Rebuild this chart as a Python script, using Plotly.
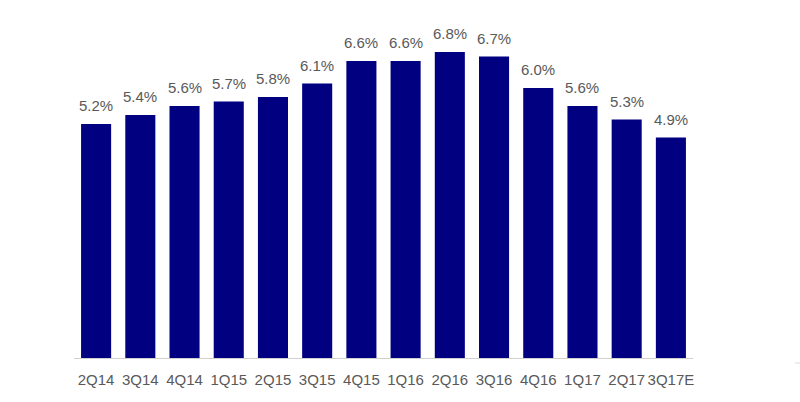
import plotly.graph_objects as go

quarters = ["2Q14", "3Q14", "4Q14", "1Q15", "2Q15", "3Q15", "4Q15", "1Q16",
            "2Q16", "3Q16", "4Q16", "1Q17", "2Q17", "3Q17E"]
values = [5.2, 5.4, 5.6, 5.7, 5.8, 6.1, 6.6, 6.6, 6.8, 6.7, 6.0, 5.6, 5.3, 4.9]
labels = [f"{v:.1f}%" for v in values]

FONT = "Liberation Sans, Arial, sans-serif"

fig = go.Figure()
fig.add_trace(go.Bar(
    x=quarters, y=values,
    marker=dict(color="#000080", line=dict(width=0)),
    cliponaxis=False, hoverinfo="skip",
))
for q, v, t in zip(quarters, values, labels):
    fig.add_annotation(x=q, y=v, text=t, showarrow=False, yanchor="bottom",
                       yshift=8, font=dict(family=FONT, size=15, color="#595959"))
fig.update_layout(
    width=800, height=402,
    margin=dict(l=74, r=107, t=20, b=44, autoexpand=False),
    paper_bgcolor="white", plot_bgcolor="white",
    bargap=0.32, showlegend=False,
    font=dict(family=FONT, size=15, color="#595959"),
    xaxis=dict(showgrid=False, showline=True, linecolor="#d0d0d0", linewidth=1,
               ticks="", ticklabelstandoff=8, tickangle=0, automargin=False,
               tickfont=dict(family=FONT, size=15, color="#595959"), range=[-0.5, 13.5]),
    yaxis=dict(visible=False, range=[0, 338/45]),
)
fig.add_shape(type="line", xref="paper", yref="paper", x0=(795-74)/619, x1=(800-74)/619,
              y0=-5/338, y1=-5/338, line=dict(color="#dddddd", width=1))
fig.write_html("out.html")
